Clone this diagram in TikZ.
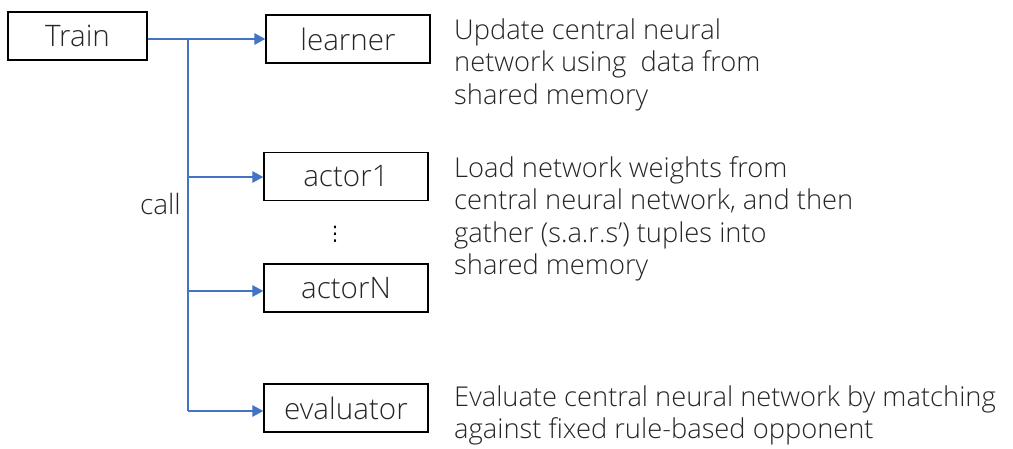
\documentclass[tikz,border=0pt]{standalone}
\usepackage{fontspec}
\IfFontExistsTF{Open Sans Light}{\setmainfont{Open Sans Light}}{\setmainfont{Open Sans}}
\newfontfamily\symfont{DejaVu Sans}
\usetikzlibrary{arrows.meta}
\definecolor{officeblue}{HTML}{4472C4}
\definecolor{txt}{HTML}{262626}
\tikzset{
  box/.style={draw=black, line width=1.2pt, minimum width=164pt, minimum height=48pt, inner sep=0pt, text=txt, font=\fontsize{29.6}{32}\selectfont},
  conn/.style={draw=officeblue, line width=2.6pt, -{Triangle[length=11pt,width=11pt]}},
  desc/.style={anchor=north west, align=left, inner sep=0pt, font=\fontsize{27.3}{32.3}\selectfont, text=txt}
}
\begin{document}
\begin{tikzpicture}[x=1pt,y=-1pt]
\useasboundingbox (0,0) rectangle (1013,449);
\node[box, minimum width=139pt] (train) at (77.5,36) {Train};
\node[box] (learner) at (348,39) {learner};
\node[box] (actor1) at (346,176.5) {actor1};
\node[box] (actorN) at (346,288) {actorN};
\node[box] (evaluator) at (346,408) {evaluator};
\node[font=\symfont\fontsize{20}{20}\selectfont, inner sep=0pt] (dots) at (335,234) {⋮};
\node[font=\fontsize{28}{30}\selectfont, text=txt, anchor=east, inner sep=0pt] (call) at (181,204) {call};
\coordinate (top) at (188,39);
\coordinate (j1) at (188,177);
\coordinate (j2) at (188,291);
\coordinate (j3) at (188,411);
\draw[conn] (train.east |- top) -- (learner.west |- top);
\draw[draw=officeblue, line width=2.6pt] (top) -- (j3);
\draw[conn] (j1) -- (actor1.west |- j1);
\draw[conn] (j2) -- (actorN.west |- j2);
\draw[conn] (j3) -- (evaluator.west |- j3);
\node[desc] (d1) at (454,18.5) {Update central neural\\network using\ \ data from\\shared memory};
\node[desc] (d2) at (454,156.5) {Load network weights from\\central neural network, and then\\gather (s.a.r.s’) tuples into\\shared memory};
\node[desc] (d3) at (454,385.5) {Evaluate central neural network by matching\\against fixed rule-based opponent};
\end{tikzpicture}
\end{document}
